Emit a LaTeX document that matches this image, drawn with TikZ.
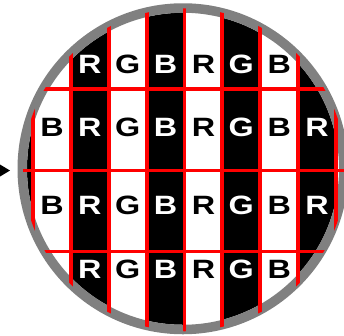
\documentclass[tikz,border=0pt]{standalone}
\usepackage{fontspec}
\usepackage{graphicx}
\setmainfont{Liberation Sans}
\definecolor{ringgray}{RGB}{128,128,128}
\newcommand{\widelet}[1]{\scalebox{1.22}[1]{#1}}
\tikzset{
  redline/.style={draw=red, line width=3.8pt},
  lettr/.style={font=\fontsize{26.5}{26.5}\selectfont\bfseries, inner sep=0pt, text height=0.716em, text depth=0pt, anchor=center},
  onblack/.style={lettr, text=white},
  onwhite/.style={lettr, text=black}
}
\begin{document}
\begin{tikzpicture}[x=1pt,y=-1pt]
\useasboundingbox (0,0) rectangle (344,335);
% stripes
\begin{scope}
  \clip (183,168.75) circle (156);
  \fill[white] (0,0) rectangle (344,335);
  \foreach \a in {-1,1,3,5,7}
    \fill[black] ({33+37.875*\a},0) rectangle ({33+37.875*(\a+1)},335);
\end{scope}
% ring
\draw[ringgray, line width=9.5pt] (183,168.75) circle (160.75);
% red grid
\begin{scope}
  \clip (184.5,169.75) circle (161.5);
  \foreach \k in {0,...,8}
    \draw[redline] ({33+37.875*\k},0) -- ({33+37.875*\k},335);
  \foreach \yy in {89.3,170.5,251.5}
    \draw[redline] (0,\yy) -- (344,\yy);
\end{scope}
% letters rows 2 and 3
\foreach \t [count=\i from 0] in {B,R,G,B,R,G,B,R}{
  \pgfmathsetmacro{\cx}{33+37.875*(\i+0.5)}
  \ifodd\i
    \node[onblack] (rb\i) at (\cx,133) {\widelet{\t}};
    \node[onblack] (rc\i) at (\cx,210.5) {\widelet{\t}};
  \else
    \node[onwhite] (rb\i) at (\cx,133) {\widelet{\t}};
    \node[onwhite] (rc\i) at (\cx,210.5) {\widelet{\t}};
  \fi
}
% letters rows 1 and 4
\foreach \t [count=\i from 1] in {R,G,B,R,G,B}{
  \pgfmathsetmacro{\cx}{33+37.875*(\i+0.5)}
  \ifodd\i
    \node[onblack] (ra\i) at (\cx,69.5) {\widelet{\t}};
    \node[onblack] (rd\i) at (\cx,274.5) {\widelet{\t}};
  \else
    \node[onwhite] (ra\i) at (\cx,69.5) {\widelet{\t}};
    \node[onwhite] (rd\i) at (\cx,274.5) {\widelet{\t}};
  \fi
}
% arrowhead at left
\coordinate (tip) at (10,170.5);
\fill[black] (0,164.5) -- (tip) -- (0,176.5) -- cycle;
\end{tikzpicture}
\end{document}
